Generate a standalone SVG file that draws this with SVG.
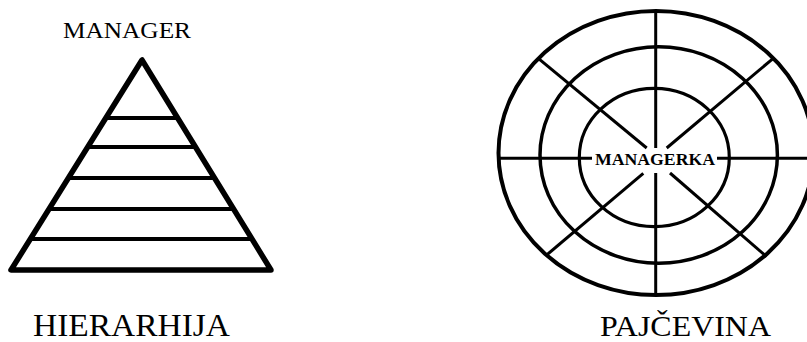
<svg xmlns="http://www.w3.org/2000/svg" width="807" height="342" viewBox="0 0 807 342">
<style>
.lbl{font-family:"Liberation Serif","Times New Roman",serif;fill:#000}
.ln{stroke:#000;fill:none;stroke-linecap:butt}
</style>
<rect width="807" height="342" fill="#fff"/>
<g id="hierarhija">
<polygon class="ln" points="142,60 11,270 271,270" stroke-width="5.5" stroke-linejoin="round"/>
<g class="ln" stroke-width="4">
<line x1="105.8" y1="118" x2="177.6" y2="118"/>
<line x1="87.7" y1="147" x2="195.4" y2="147"/>
<line x1="68.4" y1="178" x2="214.5" y2="178"/>
<line x1="49" y1="209" x2="233.5" y2="209"/>
<line x1="30.3" y1="239" x2="252" y2="239"/>
</g>
<text class="lbl" x="63" y="38" font-size="24" textLength="128" lengthAdjust="spacingAndGlyphs">MANAGER</text>
<text class="lbl" x="33" y="336" font-size="32" textLength="197" lengthAdjust="spacingAndGlyphs">HIERARHIJA</text>
</g>
<g id="pajcevina">
<ellipse class="ln" cx="656" cy="153" rx="157.5" ry="142" stroke-width="4"/>
<ellipse class="ln" cx="658.7" cy="155" rx="118.7" ry="108.3" stroke-width="3.5"/>
<ellipse class="ln" cx="654.3" cy="157.5" rx="75" ry="69.2" stroke-width="3.2"/>
<g id="spokes" class="ln" stroke-width="3">
<line x1="655.7" y1="10" x2="655.7" y2="148"/>
<line x1="655.7" y1="173" x2="655.7" y2="296"/>
<line x1="497" y1="158.3" x2="592" y2="158.3"/>
<line x1="717" y1="158.3" x2="807" y2="158.3"/>
<line x1="538.3" y1="58.3" x2="646.7" y2="148"/>
<line x1="773.3" y1="58.3" x2="666.7" y2="148"/>
<line x1="643.3" y1="173.3" x2="546.7" y2="255"/>
<line x1="670" y1="173" x2="766.7" y2="256.7"/>
</g>
<text class="lbl" x="595" y="165" font-size="16.5" font-weight="bold" textLength="120" lengthAdjust="spacingAndGlyphs" fill="#111">MANAGERKA</text>
<text class="lbl" x="600" y="336" font-size="30" textLength="171" lengthAdjust="spacingAndGlyphs">PAJČEVINA</text>
</g>
</svg>
